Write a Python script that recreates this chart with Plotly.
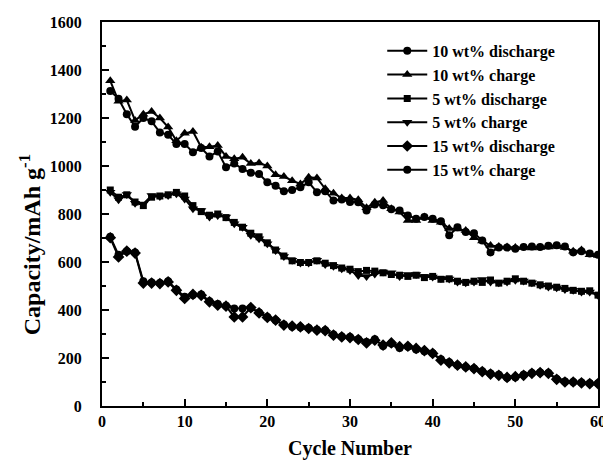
import plotly.graph_objects as go

cycles = list(range(1, 61))

wt10_discharge = [1313, 1280, 1216, 1164, 1200, 1186, 1140, 1130, 1092, 1092,
                  1057, 1075, 1040, 1060, 995, 1010, 988, 972, 967, 932,
                  918, 895, 900, 911, 932, 891, 895, 856, 860, 850,
                  849, 815, 840, 836, 820, 815, 794, 780, 787, 780,
                  770, 711, 745, 725, 720, 690, 640, 660, 660, 655,
                  662, 665, 662, 668, 670, 665, 640, 645, 635, 630]
wt10_charge = [1355, 1270, 1275, 1190, 1216, 1227, 1200, 1162, 1105, 1136,
               1144, 1078, 1080, 1085, 1040, 1030, 1036, 1010, 1013, 1000,
               964, 956, 939, 925, 953, 950, 905, 886, 867, 867,
               859, 826, 849, 856, 822, 808, 773, 773, 787, 773,
               766, 740, 738, 731, 701, 687, 669, 665, 662, 660,
               660, 658, 660, 662, 665, 660, 645, 650, 630, 627]
wt5_discharge = [900, 870, 880, 850, 835, 870, 875, 880, 890, 875,
                 835, 810, 795, 800, 785, 765, 745, 720, 705, 680,
                 650, 625, 605, 598, 598, 605, 595, 585, 575, 570,
                 560, 565, 562, 555, 548, 545, 540, 545, 535, 540,
                 528, 530, 520, 515, 520, 515, 525, 512, 520, 530,
                 520, 512, 505, 500, 495, 490, 482, 478, 480, 462]
wt5_charge = [891, 859, 881, 845, 842, 877, 873, 877, 884, 863,
              822, 815, 787, 794, 787, 759, 745, 711, 697, 676,
              648, 623, 607, 596, 596, 607, 590, 582, 572, 565,
              544, 540, 550, 558, 555, 540, 548, 548, 540, 537,
              531, 529, 517, 514, 517, 527, 517, 514, 517, 524,
              521, 514, 503, 496, 493, 485, 482, 475, 475, 461]
wt15_discharge = [701, 621, 645, 637, 512, 512, 510, 517, 482, 448,
                  465, 461, 434, 420, 416, 371, 371, 410, 388, 369,
                  358, 337, 333, 330, 323, 316, 314, 295, 288, 285,
                  277, 263, 274, 254, 263, 247, 249, 240, 231, 219,
                  191, 180, 170, 163, 156, 143, 133, 128, 119, 122,
                  128, 136, 139, 136, 111, 100, 100, 96, 93, 93]
wt15_charge = [705, 630, 645, 640, 520, 515, 512, 520, 485, 455,
               462, 465, 436, 425, 418, 406, 406, 408, 390, 371,
               357, 340, 330, 328, 325, 318, 316, 298, 290, 287,
               278, 267, 278, 250, 260, 242, 247, 235, 228, 220,
               195, 182, 170, 163, 156, 145, 135, 130, 118, 120,
               130, 138, 140, 138, 113, 102, 100, 98, 95, 95]

series = [
    ("10 wt% discharge", wt10_discharge, "circle", 8),
    ("10 wt% charge", wt10_charge, "triangle-up", 9),
    ("5 wt% discharge", wt5_discharge, "square", 7),
    ("5 wt% charge", wt5_charge, "triangle-down", 9),
    ("15 wt% discharge", wt15_discharge, "diamond", 9),
    ("15 wt% charge", wt15_charge, "circle", 8),
]

FONT = "Liberation Serif, Times New Roman, serif"

fig = go.Figure()
for name, vals, sym, sz in series:
    fig.add_trace(go.Scatter(
        x=cycles, y=vals, name=name, mode="lines+markers",
        line=dict(color="black", width=2),
        marker=dict(symbol=sym, size=sz, color="black"),
    ))

fig.update_layout(
    width=603, height=452,
    margin=dict(l=94, r=13, t=14, b=54, autoexpand=False),
    paper_bgcolor="white", plot_bgcolor="white",
    font=dict(family=FONT, size=16, color="black", weight="bold"),
    showlegend=True,
    legend=dict(x=0.565, y=0.969, xanchor="left", yanchor="top",
                bgcolor="rgba(0,0,0,0)", borderwidth=0,
                font=dict(family=FONT, size=16, color="black", weight="bold"),
                itemwidth=40, tracegroupgap=0),
    xaxis=dict(range=[0, 60], tickvals=[0, 10, 20, 30, 40, 50, 60],
               ticks="inside", ticklen=7, tickwidth=2, tickcolor="black",
               minor=dict(dtick=5, ticks="inside", ticklen=4, tickwidth=2, tickcolor="black"),
               showline=True, linecolor="black", linewidth=2, mirror=True,
               showgrid=False, zeroline=False, automargin=False,
               ticklabeloverflow="allow",
               title=dict(text="Cycle Number", font=dict(family=FONT, size=20, weight="bold"), standoff=12)),
    yaxis=dict(range=[0, 1600], tickvals=[0, 200, 400, 600, 800, 1000, 1200, 1400, 1600],
               ticks="inside", ticklen=7, tickwidth=2, tickcolor="black",
               minor=dict(dtick=100, ticks="inside", ticklen=4, tickwidth=2, tickcolor="black"),
               showline=True, linecolor="black", linewidth=2, mirror=True,
               showgrid=False, zeroline=False, automargin=False, ticklabelstandoff=15,
               ticklabeloverflow="allow"),
    annotations=[dict(text="Capacity/mAh g<sup>-1</sup>", xref="paper", yref="paper",
                      x=-0.146, y=0.42, xanchor="center", yanchor="middle",
                      textangle=-90, showarrow=False,
                      font=dict(family=FONT, size=24, color="black", weight="bold"))],
)

fig.write_html("out.html")
